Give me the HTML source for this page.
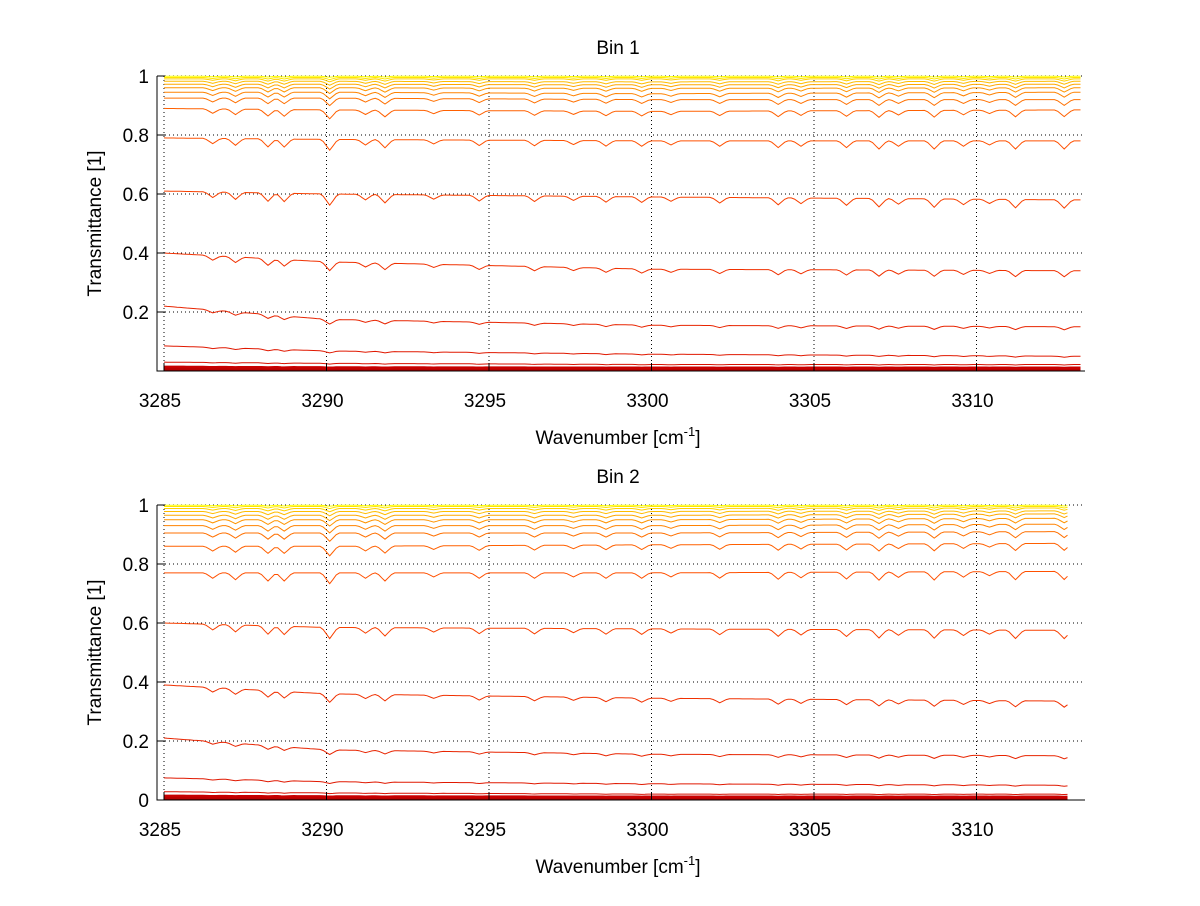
<!DOCTYPE html>
<html><head><meta charset="utf-8"><style>
body{margin:0;background:#fff;}
svg text{font-family:"Liberation Sans",sans-serif;fill:#000;}
</style></head><body>
<svg id="chart" width="1200" height="901" xmlns="http://www.w3.org/2000/svg"></svg>
<script>
// ---- data ----
const xTicks = [3285, 3290, 3295, 3300, 3305, 3310];
const yTicksTop = [0.2, 0.4, 0.6, 0.8, 1];
const yTicksBottom = [0, 0.2, 0.4, 0.6, 0.8, 1];
const anchorWn = [3285, 3290, 3300, 3313];
const bin1Levels = [
 [0.004,0.004,0.004,0.004],[0.008,0.007,0.006,0.006],[0.014,0.012,0.011,0.011],[0.03,0.026,0.022,0.022],
 [0.085,0.068,0.057,0.05],[0.22,0.175,0.155,0.15],[0.40,0.37,0.345,0.34],[0.61,0.6,0.59,0.58],
 [0.79,0.785,0.78,0.78],[0.89,0.885,0.88,0.885],[0.925,0.925,0.92,0.92],[0.945,0.945,0.94,0.945],
 [0.96,0.96,0.958,0.96],[0.972,0.972,0.97,0.972],[0.982,0.982,0.98,0.982],[0.99,0.99,0.99,0.99],
 [0.995,0.995,0.995,0.995],[0.999,0.999,0.999,0.999]
];
const bin2Levels = [
 [0.004,0.004,0.004,0.004],[0.008,0.007,0.006,0.006],[0.014,0.012,0.011,0.011],[0.028,0.024,0.02,0.02],
 [0.075,0.062,0.055,0.05],[0.21,0.17,0.155,0.15],[0.39,0.36,0.345,0.335],[0.60,0.585,0.58,0.575],
 [0.77,0.77,0.77,0.775],[0.86,0.86,0.865,0.87],[0.905,0.905,0.905,0.91],[0.93,0.93,0.93,0.935],
 [0.95,0.95,0.95,0.955],[0.965,0.965,0.965,0.97],[0.978,0.978,0.978,0.98],[0.988,0.988,0.988,0.99],
 [0.995,0.995,0.995,0.995],[0.999,0.999,0.999,0.999]
];
const dipWn = [3286.5,3287.2,3288.2,3288.7,3290.1,3291.2,3291.8,3293.3,3294.7,3296.4,3297.6,3298.6,3299.7,3300.6,3302.1,3303.9,3304.6,3306.0,3307.0,3307.6,3308.7,3309.6,3310.4,3311.2,3312.7];
const dipDepth = [0.02,0.025,0.03,0.03,0.04,0.02,0.03,0.015,0.02,0.02,0.015,0.02,0.02,0.015,0.02,0.025,0.02,0.025,0.03,0.02,0.03,0.02,0.015,0.03,0.03];
const colors = ["#a00000","#b80000","#c80000","#d81000","#e01800","#e82400","#f03000","#f84000","#ff5000","#ff6000","#ff7000","#ff8200","#ff9400","#ffa800","#ffbc00","#ffd000","#ffe600","#ffff00"];

const NS="http://www.w3.org/2000/svg";
const svg=document.getElementById('chart');
function mk(tag,attrs,parent){const e=document.createElementNS(NS,tag);for(const k in attrs)e.setAttribute(k,attrs[k]);(parent||svg).appendChild(e);return e;}

function baseline(lv,w){
  for(let i=0;i<anchorWn.length-1;i++){
    if(w<=anchorWn[i+1]){const t=(w-anchorWn[i])/(anchorWn[i+1]-anchorWn[i]);return lv[i]+t*(lv[i+1]-lv[i]);}
  }
  return lv[lv.length-1];
}
function absorb(w){let s=0;for(let i=0;i<dipWn.length;i++){const d=Math.abs(w-dipWn[i]);if(d<0.25)s+=dipDepth[i]*(1-d/0.25);}return s;}

function panel(p){
  const g=mk('g',{});
  
  
  const xs=w=>164+(w-3285)*32.5;
  const ys=v=>p.y0-v*(p.y0-p.y1);
  xTicks.forEach(t=>{const l=mk('line',{x1:xs(t),x2:xs(t),y1:p.y1,y2:p.y0,stroke:'#000','stroke-width':1,'stroke-dasharray':'1 3'},g);
    });
  p.yTicks.forEach(t=>{if(t===0)return;const l=mk('line',{x1:157,x2:1085,y1:ys(t),y2:ys(t),stroke:'#000','stroke-width':1,'stroke-dasharray':'1 3'},g);
    });
  p.levels.forEach((lv,ci)=>{
    let d='';
    for(let w=3285;w<=p.xEnd+1e-6;w+=0.1){
      const v=baseline(lv,w);const a=absorb(w)*2.5*v*Math.sqrt(Math.max(1-v,0));
      d+=(d?'L':'M')+xs(w).toFixed(1)+','+ys(v-a).toFixed(1);
    }
    const path=mk('path',{d:d,fill:'none',stroke:colors[ci],'stroke-width':ci<3?2.5:1},g);
    
    
  });
  const ax=mk('path',{d:`M157,${p.y1}V${p.y0}H1085`,stroke:'#000',fill:'none','stroke-width':1},g);
  
  xTicks.forEach(t=>{mk('line',{x1:xs(t),x2:xs(t),y1:p.y0,y2:p.y0-8,stroke:'#000'},g);
    const tx=mk('text',{x:xs(t)-4,y:p.y0+36,'font-size':19,'text-anchor':'middle'},g);tx.textContent=t;
    });
  p.yTicks.forEach(t=>{mk('line',{x1:157,x2:165,y1:ys(t),y2:ys(t),stroke:'#000'},g);
    const tx=mk('text',{x:149,y:ys(t)+7,'font-size':19,'text-anchor':'end'},g);tx.textContent=String(t);
    });
  const ti=mk('text',{x:618,y:p.y1-22,'font-size':19,'text-anchor':'middle'},g);ti.textContent=p.title;
  
  const yl=mk('text',{x:0,y:0,'font-size':19,'text-anchor':'middle',transform:`translate(101,${(p.y0+p.y1)/2}) rotate(-90)`},g);yl.textContent='Transmittance [1]';
  
  const xl=mk('text',{x:618,y:p.y0+73,'font-size':19,'text-anchor':'middle'},g);
  xl.innerHTML='Wavenumber [cm<tspan dy="-8" font-size="13">-1</tspan><tspan dy="8">]</tspan>';
  
}
panel({name:'bin-1-panel',title:'Bin 1',y0:371,y1:76,yTicks:yTicksTop,levels:bin1Levels,xEnd:3313.2});
panel({name:'bin-2-panel',title:'Bin 2',y0:800,y1:505,yTicks:yTicksBottom,levels:bin2Levels,xEnd:3312.8});
</script>
</body></html>
